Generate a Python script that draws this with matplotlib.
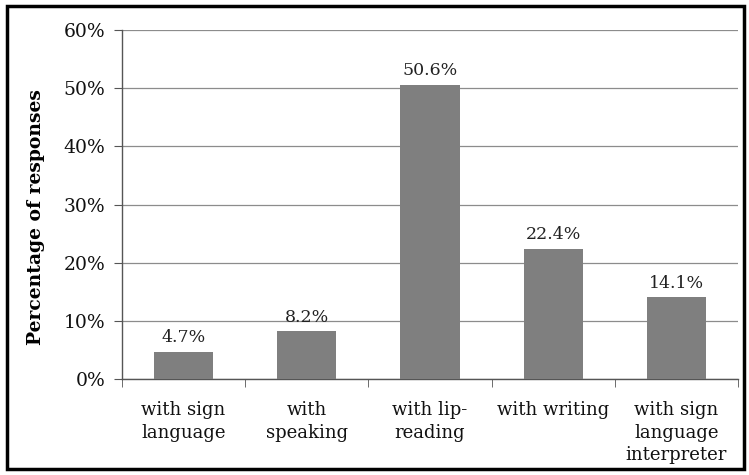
import matplotlib
matplotlib.use("Agg")
import matplotlib.pyplot as plt
from matplotlib.patches import Rectangle
from matplotlib.ticker import PercentFormatter, MultipleLocator, FixedLocator

categories = ["with sign\nlanguage", "with\nspeaking", "with lip-\nreading",
              "with writing", "with sign\nlanguage\ninterpreter"]
values = [4.7, 8.2, 50.6, 22.4, 14.1]
value_labels = ["4.7%", "8.2%", "50.6%", "22.4%", "14.1%"]

plt.rcParams["font.family"] = ["DejaVu Serif"]

fig = plt.figure(figsize=(7.49, 4.75), dpi=100)
ax = fig.add_axes([122 / 749, 1 - 379 / 475, 616 / 749, 349 / 475])

x = list(range(len(categories)))
bars = ax.bar(x, values, width=0.48, color="#7f7f7f", zorder=3)
for xi, v, lab in zip(x, values, value_labels):
    ax.text(xi, v + 1.6, lab, ha="center", va="baseline", fontsize=12.5, color="#222222")

ax.set_xlim(-0.5, len(categories) - 0.5)
ax.set_ylim(0, 60)
ax.yaxis.set_major_locator(MultipleLocator(10))
ax.yaxis.set_major_formatter(PercentFormatter(decimals=0))
ax.grid(axis="y", color="#8c8c8c", linewidth=0.9, zorder=0)

ax.set_xticks(x)
ax.set_xticklabels(categories, fontsize=13, linespacing=1.32, color="#111111")
ax.tick_params(axis="x", length=0, pad=16)
ax.xaxis.set_minor_locator(FixedLocator([i + 0.5 for i in range(-1, len(categories))]))
ax.tick_params(axis="x", which="minor", length=6, color="#555555", direction="out")
ax.tick_params(axis="y", length=6, color="#555555", labelsize=13.5, pad=6, labelcolor="#111111")

for side in ("top", "right"):
    ax.spines[side].set_visible(False)
for side in ("left", "bottom"):
    ax.spines[side].set_color("#555555")
    ax.spines[side].set_linewidth(1.0)

ax.set_ylabel("Percentage of responses", fontsize=13.5, fontweight="bold")
ax.yaxis.set_label_coords(-0.125, 0.465)

fig.patches.append(Rectangle((7 / 749, 6 / 475), 737 / 749, 463 / 475,
                             transform=fig.transFigure, fill=False,
                             edgecolor="black", linewidth=2.5))

fig.savefig("out.png", dpi=100)
